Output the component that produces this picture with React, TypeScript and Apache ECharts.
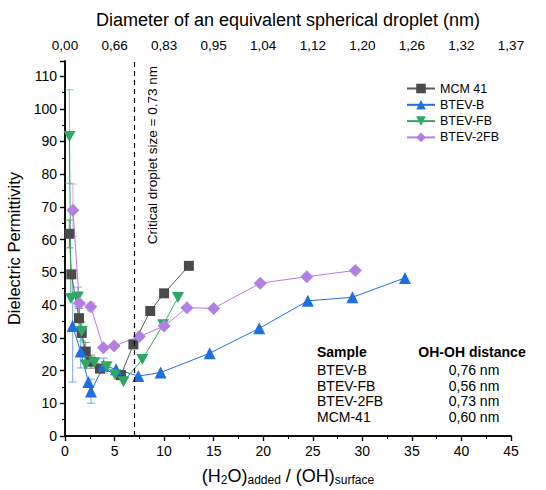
import { useEffect, useRef } from "react";
import * as echarts from "echarts";

const mcm41: number[][] = [
  [0.44, 61.8], [0.64, 49.4], [1.41, 36.0], [1.69, 31.5], [2.09, 25.8], [2.62, 22.7],
  [3.53, 20.6], [5.65, 18.6], [6.9, 28.0], [8.6, 38.2], [10.0, 43.6], [12.5, 52.0],
];
const btevB: number[][] = [
  [0.77, 33.6], [1.58, 25.8], [2.35, 16.5], [2.62, 13.6], [3.9, 21.5], [5.15, 20.4],
  [7.4, 18.3], [9.65, 19.4], [14.6, 25.3], [19.6, 32.9], [24.5, 41.3], [29.0, 42.4], [34.3, 48.3],
];
const btevFB: number[][] = [
  [0.45, 91.5], [0.6, 42.0], [1.3, 42.5], [1.69, 31.9], [2.09, 21.7], [2.96, 22.4],
  [4.2, 21.2], [5.05, 18.7], [5.9, 16.6], [7.8, 23.4], [9.9, 34.0], [11.4, 42.3],
];
const btev2FB: number[][] = [
  [0.8, 69.0], [1.45, 40.6], [2.6, 39.5], [3.87, 27.0], [4.95, 27.5], [7.5, 30.4],
  [10.0, 33.6], [12.3, 39.2], [15.0, 39.0], [19.7, 46.7], [24.4, 48.7], [29.3, 50.6],
];

// error bars: [x, low, high]
const errMcm: number[][] = [[0.44, 57.5, 66.0], [1.41, 33.0, 39.0], [2.09, 23.0, 28.6], [2.62, 20.7, 24.7]];
const errB: number[][] = [[0.77, 16.5, 50.6], [1.58, 20.8, 30.8], [2.62, 10.0, 17.4], [3.9, 19.2, 23.8]];
const errFB: number[][] = [[0.45, 77.2, 105.8], [1.3, 39.5, 45.5], [1.69, 29.0, 34.8]];
const err2FB: number[][] = [[0.8, 61.0, 77.0], [2.6, 38.2, 40.8]];

const topTickLabels = ["0,00", "0,66", "0,83", "0,95", "1,04", "1,12", "1,20", "1,26", "1,32", "1,37"];

const tableRows = [
  ["BTEV-B", "0,76 nm"],
  ["BTEV-FB", "0,56 nm"],
  ["BTEV-2FB", "0,73 nm"],
  ["MCM-41", "0,60 nm"],
];

const FONT = "'Liberation Sans', Arial, sans-serif";
const C_MCM = "#4b4b4b";
const C_B = "#1f6fe3";
const C_FB = "#2fa865";
const C_2FB = "#b27fe3";

const invTri = "path://M0,0 L10,0 L5,9 Z";

function errSeries(data: number[][], color: string) {
  return {
    type: "custom",
    xAxisIndex: 0,
    yAxisIndex: 0,
    z: 1,
    silent: true,
    data,
    encode: { x: 0, y: [1, 2] },
    renderItem: (params: any, api: any) => {
      const x = api.value(0);
      const p1 = api.coord([x, api.value(1)]);
      const p2 = api.coord([x, api.value(2)]);
      const w = 4;
      const style = { stroke: color, lineWidth: 1.2, opacity: 0.7 };
      return {
        type: "group",
        children: [
          { type: "line", shape: { x1: p1[0], y1: p1[1], x2: p2[0], y2: p2[1] }, style },
          { type: "line", shape: { x1: p1[0] - w, y1: p1[1], x2: p1[0] + w, y2: p1[1] }, style },
          { type: "line", shape: { x1: p2[0] - w, y1: p2[1], x2: p2[0] + w, y2: p2[1] }, style },
        ],
      };
    },
  };
}

export default function App() {
  const ref = useRef<HTMLDivElement>(null);
  useEffect(() => {
    if (!ref.current) return;
    const chart = echarts.init(ref.current, null, { renderer: "svg" });
    const axisLine = { show: true, lineStyle: { color: "#000", width: 1.5 } };
    const tableTexts: any[] = [
      { type: "text", x: 317, y: 352, style: { text: "Sample", font: `bold 14px ${FONT}`, fill: "#000", align: "left", verticalAlign: "middle" } },
      { type: "text", x: 472, y: 352, style: { text: "OH-OH distance", font: `bold 14px ${FONT}`, fill: "#000", align: "center", verticalAlign: "middle" } },
    ];
    tableRows.forEach((r, i) => {
      const y = 370 + i * 15.5;
      tableTexts.push({ type: "text", x: 317, y, style: { text: r[0], font: `14px ${FONT}`, fill: "#000", align: "left", verticalAlign: "middle" } });
      tableTexts.push({ type: "text", x: 474, y, style: { text: r[1], font: `14px ${FONT}`, fill: "#000", align: "center", verticalAlign: "middle" } });
    });

    chart.setOption({
      animation: false,
      backgroundColor: "#fff",
      textStyle: { fontFamily: FONT },
      grid: { left: 65, right: 35, top: 61, bottom: 54, outerBoundsMode: "none" },
      legend: {
        data: ["MCM 41", "BTEV-B", "BTEV-FB", "BTEV-2FB"],
        orient: "vertical",
        left: 401,
        top: 77,
        itemWidth: 28,
        itemHeight: 12,
        itemGap: 3.3,
        textStyle: { fontSize: 12.5, color: "#000", fontFamily: FONT },
      },
      xAxis: [
        {
          type: "value",
          position: "bottom",
          min: 0,
          max: 45,
          interval: 5,
          splitLine: { show: false },
          axisLine,
          axisTick: { show: true, length: 5, lineStyle: { color: "#000", width: 1.2 } },
          minorTick: { show: true, splitNumber: 2, length: 3, lineStyle: { color: "#000", width: 1 } },
          axisLabel: { fontSize: 14, color: "#000", margin: 8 },
          name: "(H{s|2}O){s|added} / (OH){s|surface}",
          nameLocation: "middle",
          nameGap: 29,
          nameTextStyle: {
            fontSize: 18,
            color: "#000",
            rich: { s: { fontSize: 12, verticalAlign: "bottom", padding: [9, 0, 0, 0], color: "#000" } },
          },
        },
        {
          type: "value",
          position: "top",
          min: 0,
          max: 45,
          interval: 5,
          splitLine: { show: false },
          axisLine,
          axisTick: { show: true, inside: true, length: 5, lineStyle: { color: "#000", width: 1.2 } },
          minorTick: { show: true, splitNumber: 2, length: 3, lineStyle: { color: "#000", width: 1 } },
          axisLabel: {
            fontSize: 13.5,
            color: "#000",
            margin: 9,
            formatter: (v: number) => topTickLabels[Math.round(v / 5)] ?? "",
          },
          name: "Diameter of an equivalent spherical droplet (nm)",
          nameLocation: "middle",
          nameGap: 32,
          nameTextStyle: { fontSize: 18, color: "#000" },
        },
      ],
      yAxis: [
        {
          type: "value",
          position: "left",
          min: 0,
          max: 114.6,
          interval: 10,
          splitLine: { show: false },
          axisLine,
          axisTick: { show: true, length: 5, lineStyle: { color: "#000", width: 1.2 } },
          minorTick: { show: true, splitNumber: 2, length: 3, lineStyle: { color: "#000", width: 1 } },
          axisLabel: {
            fontSize: 14,
            color: "#000",
            margin: 8,
            formatter: (v: number) => (Math.abs(v % 10) < 1e-6 ? String(v) : ""),
          },
          name: "Dielectric Permittivity",
          nameLocation: "middle",
          nameGap: 36,
          nameTextStyle: { fontSize: 16.5, color: "#000" },
        },
        {
          type: "value",
          position: "right",
          min: 0,
          max: 114.6,
          interval: 10,
          splitLine: { show: false },
          axisLine,
          axisTick: { show: true, inside: true, length: 5, lineStyle: { color: "#000", width: 1.2 } },
          minorTick: { show: true, splitNumber: 2, length: 3, lineStyle: { color: "#000", width: 1 } },
          axisLabel: { show: false },
        },
      ],
      graphic: [
        {
          type: "text",
          x: 152,
          y: 66,
          rotation: Math.PI / 2,
          style: {
            text: "Critical droplet size = 0.73 nm",
            font: `13.5px ${FONT}`,
            fill: "#000",
            align: "right",
            verticalAlign: "middle",
          },
        },
        ...tableTexts,
      ],
      series: [
        errSeries(errMcm, "#707070"),
        errSeries(errB, "#5b95ea"),
        errSeries(errFB, "#5cbf87"),
        errSeries(err2FB, "#c39cec"),
        {
          name: "MCM 41",
          type: "line",
          data: mcm41,
          symbol: "rect",
          symbolSize: 10,
          itemStyle: { color: C_MCM },
          lineStyle: { color: "#5a5a5a", width: 1 },
          z: 3,
          markLine: {
            silent: true,
            symbol: "none",
            label: { show: false },
            lineStyle: { color: "#000", type: [5, 4], width: 1.2 },
            data: [{ xAxis: 7 }],
          },
        },
        {
          name: "BTEV-B",
          type: "line",
          data: btevB,
          symbol: "triangle",
          symbolSize: 12,
          itemStyle: { color: C_B },
          lineStyle: { color: C_B, width: 1 },
          z: 3,
        },
        {
          name: "BTEV-FB",
          type: "line",
          data: btevFB,
          symbol: invTri,
          symbolSize: [12, 11],
          itemStyle: { color: C_FB },
          lineStyle: { color: C_FB, width: 1 },
          z: 3,
        },
        {
          name: "BTEV-2FB",
          type: "line",
          data: btev2FB,
          symbol: "diamond",
          symbolSize: 13,
          itemStyle: { color: C_2FB },
          lineStyle: { color: C_2FB, width: 1 },
          z: 3,
        },
      ],
    });
    return () => chart.dispose();
  }, []);
  return (
    <div
      ref={ref}
      style={{ position: "fixed", left: 0, top: 0, width: 546, height: 490, background: "#fff" }}
    />
  );
}
